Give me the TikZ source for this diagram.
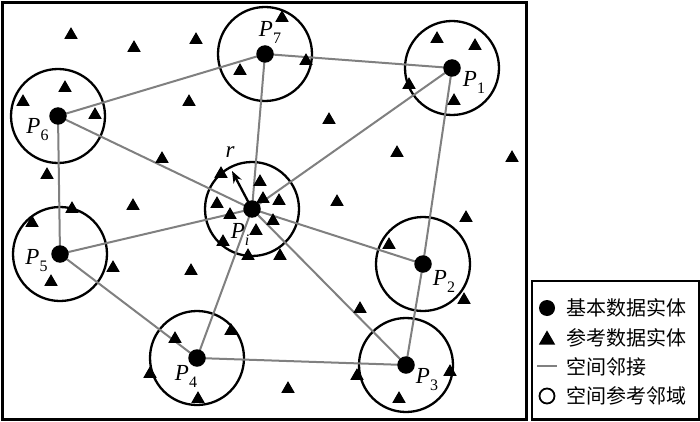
\documentclass[tikz,border=0pt]{standalone}
\usepackage{fontspec}
\setmainfont{Liberation Serif}
\newfontfamily\cjk{Noto Sans CJK SC}
\usetikzlibrary{shapes.geometric,arrows.meta}
\newcommand{\plab}[1]{{\fontsize{23}{23}\selectfont\itshape P}\raisebox{-7pt}{\fontsize{16}{16}\selectfont #1}}
\begin{document}
\begin{tikzpicture}[x=1pt,y=-1pt,
 dot/.style={circle,fill=black,minimum size=17.5pt,inner sep=0pt},
 nbhd/.style={circle,draw=black,line width=2.3pt,minimum size=94pt,inner sep=0pt},
 tri/.style={regular polygon,regular polygon sides=3,fill=black,minimum size=15.5pt,inner sep=0pt,yshift=-1.9pt},
 adj/.style={draw=gray,line width=2pt},
 lab/.style={inner sep=0pt},
 frame/.style={draw=black,line width=2.2pt},
 leg/.style={anchor=west,inner sep=0pt,font=\cjk\fontsize{20}{20}\selectfont}]
\useasboundingbox (0,0) rectangle (700,422);
\fill[white] (0,0) rectangle (700,422);
% frames
\draw[frame] (2.5,2.5) rectangle (526.5,419.5);
\draw[frame] (532,281) rectangle (698.8,419.5);
% centres
\coordinate (c1) at (452,68);
\coordinate (c2) at (423,264);
\coordinate (c3) at (406,365);
\coordinate (c4) at (197,358);
\coordinate (c5) at (60,254);
\coordinate (c6) at (58,116);
\coordinate (c7) at (265,54);
\coordinate (ci) at (252,209);
% neighbourhoods
\foreach \c in {c1,c2,c3,c4,c5,c6,c7,ci} \node[nbhd] (n\c) at (\c) {};
% adjacency
\draw[adj] (c7) -- (c1);
\draw[adj] (c7) -- (c6);
\draw[adj] (c7) -- (ci);
\draw[adj] (c6) -- (c5);
\draw[adj] (c6) -- (ci);
\draw[adj] (c1) -- (ci);
\draw[adj] (c1) -- (c2);
\draw[adj] (c5) -- (ci);
\draw[adj] (c5) -- (c4);
\draw[adj] (ci) -- (c4);
\draw[adj] (ci) -- (c2);
\draw[adj] (ci) -- (c3);
\draw[adj] (c2) -- (c3);
\draw[adj] (c4) -- (c3);
% reference entities
\foreach \x/\y in {71/33,134/46,196/38,282/16,306/59,240/69,65/86,23/100,95/113,189/100,329/118,162/157,47/173,221/172,260/180,133/204,337/200,72/207,217/202,263/197,279/199,437/37,475/44,409/83,454/99,397/151,512/156,32/221,230/213,273/219,256/229,223/240,248/254,280/254,113/266,51/280,191/269,175/337,231/329,150/372,198/397,288/387,466/216,389/243,464/298,360/307,450/370,357/374,399/397}
  \node[tri] at (\x,\y) {};
% radius arrow
\coordinate (rt) at (232,171);
\draw[line width=2.3pt,-{Stealth[length=12pt,width=9pt]}] (ci) -- (rt);
\node[lab,font=\fontsize{23}{23}\selectfont\itshape] (rl) at (230,152) {r};
% basic entities
\foreach \c/\n in {c1/P1,c2/P2,c3/P3,c4/P4,c5/P5,c6/P6,c7/P7,ci/Pi} \node[dot] (\n) at (\c) {};
% labels
\node[lab] (l7) at (270,32) {\plab{7}};
\node[lab] (l6) at (37.5,130) {\plab{6}};
\node[lab] (l1) at (474,82) {\plab{1}};
\node[lab] (li) at (240,234) {\plab{\itshape i}};
\node[lab] (l5) at (36.5,261) {\plab{5}};
\node[lab] (l4) at (186,376) {\plab{4}};
\node[lab] (l2) at (444,281) {\plab{2}};
\node[lab] (l3) at (427,380) {\plab{3}};
% legend
\node[dot,minimum size=16pt] (ld) at (547,308) {};
\node[tri,minimum size=19pt] (lt) at (547,338) {};
\coordinate (la) at (537,366); \coordinate (lb) at (557,366);
\draw[adj] (la) -- (lb);
\node[circle,draw=black,line width=1.8pt,minimum size=15pt,inner sep=0pt] (lc) at (547,396) {};
\node[leg] (t1) at (566,308) {基本数据实体};
\node[leg] (t2) at (566,338) {参考数据实体};
\node[leg] (t3) at (566,367) {空间邻接};
\node[leg] (t4) at (566,396) {空间参考邻域};
\end{tikzpicture}
\end{document}
